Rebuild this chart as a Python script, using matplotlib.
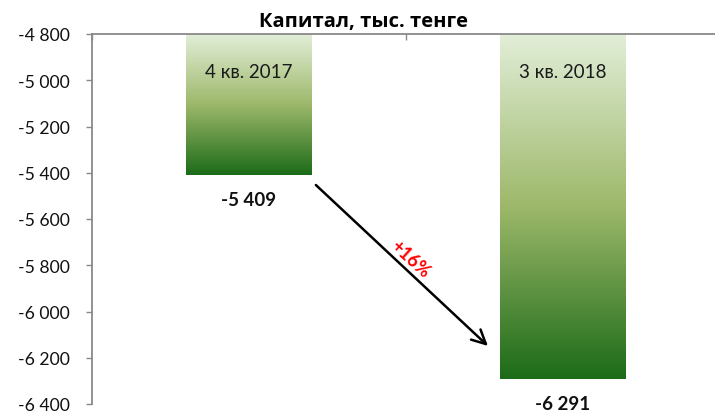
import matplotlib
matplotlib.use("Agg")
import matplotlib.pyplot as plt
import numpy as np
from matplotlib.colors import LinearSegmentedColormap
from matplotlib.ticker import FuncFormatter

plt.rcParams['font.family'] = ['Lato', 'Open Sans', 'DejaVu Sans']

categories = ["4 кв. 2017", "3 кв. 2018"]
values = [-5409, -6291]
value_labels = ["-5 409", "-6 291"]
title = "Капитал, тыс. тенге"
change_label = "+16%"
y_ticks = [-4800, -5000, -5200, -5400, -5600, -5800, -6000, -6200, -6400]
baseline = -4800

fig = plt.figure(figsize=(7.15, 4.14), dpi=100)
ax = fig.add_axes([92/715, 1-405/414, 628/715, 370/414])

cmap = LinearSegmentedColormap.from_list("g", ["#e2eed8", "#9db86a", "#1c6b18"])
grad = np.linspace(0, 1, 256).reshape(-1, 1)
width = 0.40
x = np.arange(len(categories))
bars = ax.bar(x, np.array(values) - baseline, bottom=baseline, width=width,
              color='none', edgecolor='none')
for b in bars:
    x0, y0 = b.get_x(), b.get_y()
    w, h = b.get_width(), b.get_height()
    im = ax.imshow(grad, cmap=cmap, aspect='auto',
                   extent=[x0, x0 + w, y0 + h, y0], origin='upper', zorder=2)
    im.set_clip_path(b)

for i, (c, v, lab) in enumerate(zip(categories, values, value_labels)):
    ax.annotate(c, (x[i], baseline), xytext=(0, -27), textcoords='offset points',
                ha='center', va='center', fontsize=13.5, color='#1a1a1a', zorder=5)
    ax.annotate(lab, (x[i], v), xytext=(0, -18), textcoords='offset points',
                ha='center', va='center', fontsize=13.5, fontweight='bold', color='#111111')

ax.set_xlim(-0.5, 1.5)
ax.set_ylim(-6400, -4800)
ax.set_yticks(y_ticks)
ax.yaxis.set_major_formatter(FuncFormatter(lambda v, p: f"{int(v):,}".replace(",", " ")))
ax.tick_params(axis='y', direction='out', length=4, width=1, color='#898989',
               labelsize=12.7, pad=12, labelcolor='#111111')
ax.xaxis.set_ticks_position('top')
ax.set_xticks([-0.5, 0.5, 1.5])
ax.set_xticklabels([])
ax.tick_params(axis='x', direction='in', length=4, width=1, color='#898989')
for s in ['bottom', 'right']:
    ax.spines[s].set_visible(False)
for s in ['top', 'left']:
    ax.spines[s].set_color('#898989')
    ax.spines[s].set_linewidth(1.3)
    ax.spines[s].set_zorder(6)

# arrow showing change
ax.annotate('', xy=(0.761, -6149), xytext=(0.213, -5453),
            arrowprops=dict(arrowstyle='->,head_length=1.0,head_width=0.5', color='black', lw=1.8,
                            shrinkA=0, shrinkB=0))
ax.text(0.513, -5770, change_label, rotation=-42, color='red', fontsize=13,
        fontweight='bold', ha='center', va='center', rotation_mode='anchor')

fig.text(364/715, 1-22/414, title, ha='center', va='center', fontsize=14.5,
         fontweight='bold', family=['Open Sans', 'DejaVu Sans'])

fig.savefig("out.png", dpi=100)
